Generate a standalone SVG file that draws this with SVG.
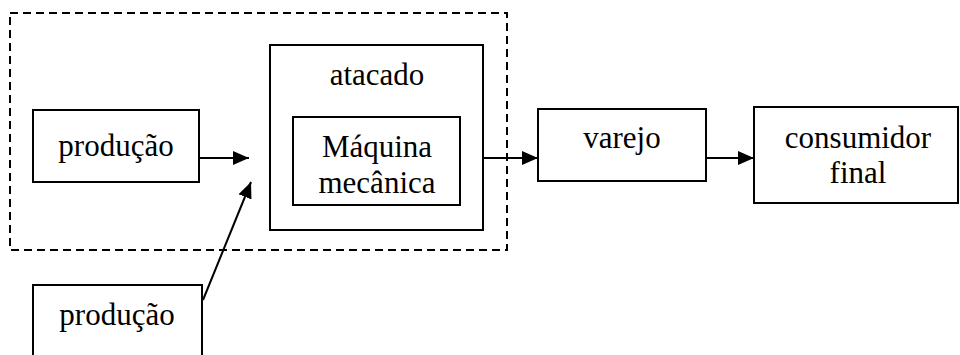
<svg xmlns="http://www.w3.org/2000/svg" width="960" height="355" viewBox="0 0 960 355">
  <style>
    .box { fill: #fff; stroke: #000; stroke-width: 2; }
    .group { fill: none; stroke: #000; stroke-width: 2; stroke-dasharray: 8 5; }
    .edge { stroke: #000; stroke-width: 2; fill: none; marker-end: url(#arrow); }
  </style>
  <defs>
    <marker id="arrow" viewBox="0 0 16 14" refX="16" refY="7" markerWidth="16" markerHeight="14" markerUnits="userSpaceOnUse" orient="auto">
      <path d="M0,0 L16,7 L0,14 Z" fill="#000"/>
    </marker>
  </defs>
  <rect width="960" height="355" fill="#fff"/>

  <!-- dashed boundary around production and wholesale -->
  <rect class="group" x="10" y="13" width="497" height="237"/>

  <g font-family="'Liberation Serif', 'Times New Roman', serif" font-size="31" text-anchor="middle" fill="#000">
    <g id="producao1">
      <rect class="box" x="33" y="110" width="166" height="72"/>
      <text x="116" y="156">produção</text>
    </g>

    <g id="atacado">
      <rect class="box" x="270" y="45" width="213" height="185"/>
      <text x="377" y="85">atacado</text>
    </g>

    <g id="maquina">
      <rect class="box" x="293" y="117" width="167" height="88"/>
      <text x="377" y="157">Máquina</text>
      <text x="377" y="193">mecânica</text>
    </g>

    <g id="varejo">
      <rect class="box" x="538" y="109" width="168" height="72"/>
      <text x="622" y="148">varejo</text>
    </g>

    <g id="consumidor">
      <rect class="box" x="754" y="107" width="204" height="96"/>
      <text x="858" y="148">consumidor</text>
      <text x="858" y="183">final</text>
    </g>

    <g id="producao2">
      <rect class="box" x="33" y="285" width="169" height="80"/>
      <text x="117" y="325">produção</text>
    </g>
  </g>

  <g id="connectors">
    <line class="edge" x1="199" y1="158" x2="249" y2="158"/>
    <line class="edge" x1="203" y1="300" x2="251" y2="182"/>
    <line class="edge" x1="483" y1="158" x2="538" y2="158"/>
    <line class="edge" x1="706" y1="158" x2="754" y2="158"/>
  </g>
</svg>
